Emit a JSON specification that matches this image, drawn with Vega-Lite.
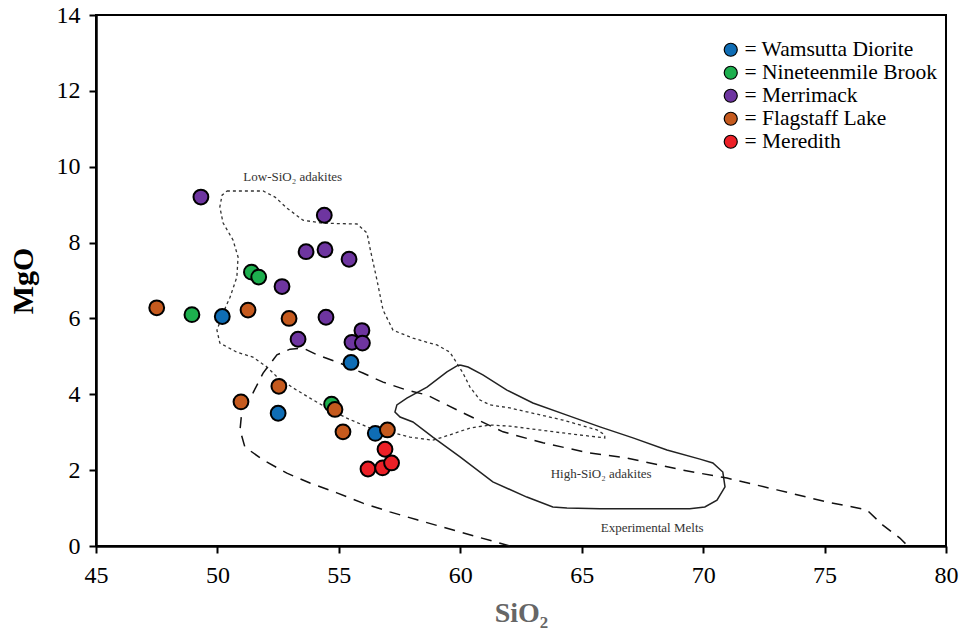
{
  "$schema": "https://vega.github.io/schema/vega-lite/v6.json",
  "width": 850,
  "height": 531,
  "autosize": {"type": "none"},
  "padding": {"left": 96, "top": 15, "right": 21, "bottom": 94},
  "background": "white",
  "config": {
    "font": "Liberation Serif",
    "view": {"stroke": "black", "strokeWidth": 2},
    "axis": {
      "grid": false,
      "domainColor": "black",
      "domainWidth": 2.5,
      "tickColor": "black",
      "tickWidth": 2,
      "tickSize": 7,
      "labelColor": "black",
      "labelFlush": false,
      "titleFontWeight": "bold"
    }
  },
  "datasets": {
    "samples": [
      {"unit": "Wamsutta Diorite", "SiO2": 50.2, "MgO": 6.05},
      {"unit": "Wamsutta Diorite", "SiO2": 55.5, "MgO": 4.84},
      {"unit": "Wamsutta Diorite", "SiO2": 52.5, "MgO": 3.5},
      {"unit": "Wamsutta Diorite", "SiO2": 56.5, "MgO": 2.97},
      {"unit": "Nineteenmile Brook", "SiO2": 48.95, "MgO": 6.1},
      {"unit": "Nineteenmile Brook", "SiO2": 51.4, "MgO": 7.22},
      {"unit": "Nineteenmile Brook", "SiO2": 51.7, "MgO": 7.09},
      {"unit": "Nineteenmile Brook", "SiO2": 54.7, "MgO": 3.74},
      {"unit": "Merrimack", "SiO2": 49.32, "MgO": 9.2},
      {"unit": "Merrimack", "SiO2": 54.4, "MgO": 8.72},
      {"unit": "Merrimack", "SiO2": 53.65, "MgO": 7.76},
      {"unit": "Merrimack", "SiO2": 54.43, "MgO": 7.81},
      {"unit": "Merrimack", "SiO2": 55.42, "MgO": 7.56},
      {"unit": "Merrimack", "SiO2": 52.66, "MgO": 6.84},
      {"unit": "Merrimack", "SiO2": 54.47, "MgO": 6.03},
      {"unit": "Merrimack", "SiO2": 53.32, "MgO": 5.45},
      {"unit": "Merrimack", "SiO2": 55.95, "MgO": 5.68},
      {"unit": "Merrimack", "SiO2": 55.54, "MgO": 5.37},
      {"unit": "Merrimack", "SiO2": 55.97, "MgO": 5.35},
      {"unit": "Flagstaff Lake", "SiO2": 47.5, "MgO": 6.28},
      {"unit": "Flagstaff Lake", "SiO2": 51.26, "MgO": 6.22},
      {"unit": "Flagstaff Lake", "SiO2": 52.95, "MgO": 6.0},
      {"unit": "Flagstaff Lake", "SiO2": 52.53, "MgO": 4.21},
      {"unit": "Flagstaff Lake", "SiO2": 50.97, "MgO": 3.8},
      {"unit": "Flagstaff Lake", "SiO2": 54.84, "MgO": 3.6},
      {"unit": "Flagstaff Lake", "SiO2": 55.17, "MgO": 3.01},
      {"unit": "Flagstaff Lake", "SiO2": 57.0, "MgO": 3.06},
      {"unit": "Meredith", "SiO2": 56.9, "MgO": 2.55},
      {"unit": "Meredith", "SiO2": 56.2, "MgO": 2.03},
      {"unit": "Meredith", "SiO2": 56.8, "MgO": 2.06},
      {"unit": "Meredith", "SiO2": 57.17, "MgO": 2.19}
    ],
    "lowSiO2": [
      {"i": 0, "SiO2": 50.39, "MgO": 9.36},
      {"i": 1, "SiO2": 51.88, "MgO": 9.36},
      {"i": 2, "SiO2": 52.37, "MgO": 9.2},
      {"i": 3, "SiO2": 52.86, "MgO": 8.91},
      {"i": 4, "SiO2": 53.52, "MgO": 8.59},
      {"i": 5, "SiO2": 54.35, "MgO": 8.51},
      {"i": 6, "SiO2": 55.75, "MgO": 8.49},
      {"i": 7, "SiO2": 56.16, "MgO": 8.25},
      {"i": 8, "SiO2": 56.3, "MgO": 7.8},
      {"i": 9, "SiO2": 56.57, "MgO": 7.01},
      {"i": 10, "SiO2": 56.82, "MgO": 6.22},
      {"i": 11, "SiO2": 57.23, "MgO": 5.69},
      {"i": 12, "SiO2": 58.05, "MgO": 5.48},
      {"i": 13, "SiO2": 58.75, "MgO": 5.35},
      {"i": 14, "SiO2": 59.04, "MgO": 5.3},
      {"i": 15, "SiO2": 59.57, "MgO": 5.11},
      {"i": 16, "SiO2": 59.86, "MgO": 4.82},
      {"i": 17, "SiO2": 60.11, "MgO": 4.56},
      {"i": 18, "SiO2": 60.4, "MgO": 4.19},
      {"i": 19, "SiO2": 60.81, "MgO": 3.85},
      {"i": 20, "SiO2": 61.22, "MgO": 3.72},
      {"i": 21, "SiO2": 62.04, "MgO": 3.64},
      {"i": 22, "SiO2": 64.23, "MgO": 3.32},
      {"i": 23, "SiO2": 65.63, "MgO": 3.06},
      {"i": 24, "SiO2": 65.95, "MgO": 2.93},
      {"i": 25, "SiO2": 65.95, "MgO": 2.85},
      {"i": 26, "SiO2": 64.23, "MgO": 2.98},
      {"i": 27, "SiO2": 62.04, "MgO": 3.16},
      {"i": 28, "SiO2": 61.22, "MgO": 3.19},
      {"i": 29, "SiO2": 60.4, "MgO": 3.11},
      {"i": 30, "SiO2": 59.57, "MgO": 2.93},
      {"i": 31, "SiO2": 58.87, "MgO": 2.79},
      {"i": 32, "SiO2": 57.93, "MgO": 2.87},
      {"i": 33, "SiO2": 57.1, "MgO": 3.01},
      {"i": 34, "SiO2": 56.28, "MgO": 3.11},
      {"i": 35, "SiO2": 55.33, "MgO": 3.37},
      {"i": 36, "SiO2": 54.51, "MgO": 3.64},
      {"i": 37, "SiO2": 53.81, "MgO": 3.9},
      {"i": 38, "SiO2": 53.11, "MgO": 4.17},
      {"i": 39, "SiO2": 52.45, "MgO": 4.46},
      {"i": 40, "SiO2": 52.04, "MgO": 4.72},
      {"i": 41, "SiO2": 51.46, "MgO": 4.98},
      {"i": 42, "SiO2": 50.8, "MgO": 5.11},
      {"i": 43, "SiO2": 50.1, "MgO": 5.35},
      {"i": 44, "SiO2": 49.98, "MgO": 5.69},
      {"i": 45, "SiO2": 50.23, "MgO": 6.14},
      {"i": 46, "SiO2": 50.52, "MgO": 6.56},
      {"i": 47, "SiO2": 50.8, "MgO": 7.09},
      {"i": 48, "SiO2": 50.85, "MgO": 7.62},
      {"i": 49, "SiO2": 50.64, "MgO": 8.07},
      {"i": 50, "SiO2": 50.23, "MgO": 8.52},
      {"i": 51, "SiO2": 50.1, "MgO": 8.94},
      {"i": 52, "SiO2": 50.19, "MgO": 9.25},
      {"i": 53, "SiO2": 50.39, "MgO": 9.36}
    ],
    "highSiO2": [
      {"i": 0, "SiO2": 59.99, "MgO": 4.77},
      {"i": 1, "SiO2": 60.32, "MgO": 4.72},
      {"i": 2, "SiO2": 60.93, "MgO": 4.51},
      {"i": 3, "SiO2": 61.92, "MgO": 4.11},
      {"i": 4, "SiO2": 62.99, "MgO": 3.77},
      {"i": 5, "SiO2": 64.39, "MgO": 3.45},
      {"i": 6, "SiO2": 65.75, "MgO": 3.14},
      {"i": 7, "SiO2": 67.11, "MgO": 2.85},
      {"i": 8, "SiO2": 68.51, "MgO": 2.53},
      {"i": 9, "SiO2": 69.87, "MgO": 2.29},
      {"i": 10, "SiO2": 70.4, "MgO": 2.19},
      {"i": 11, "SiO2": 70.81, "MgO": 1.95},
      {"i": 12, "SiO2": 70.9, "MgO": 1.56},
      {"i": 13, "SiO2": 70.57, "MgO": 1.21},
      {"i": 14, "SiO2": 70.07, "MgO": 1.03},
      {"i": 15, "SiO2": 69.45, "MgO": 0.98},
      {"i": 16, "SiO2": 65.75, "MgO": 0.98},
      {"i": 17, "SiO2": 64.39, "MgO": 1.0},
      {"i": 18, "SiO2": 63.81, "MgO": 1.03},
      {"i": 19, "SiO2": 62.74, "MgO": 1.29},
      {"i": 20, "SiO2": 61.34, "MgO": 1.69},
      {"i": 21, "SiO2": 59.99, "MgO": 2.35},
      {"i": 22, "SiO2": 58.87, "MgO": 2.87},
      {"i": 23, "SiO2": 58.05, "MgO": 3.27},
      {"i": 24, "SiO2": 57.52, "MgO": 3.4},
      {"i": 25, "SiO2": 57.31, "MgO": 3.53},
      {"i": 26, "SiO2": 57.39, "MgO": 3.72},
      {"i": 27, "SiO2": 57.8, "MgO": 3.9},
      {"i": 28, "SiO2": 58.63, "MgO": 4.19},
      {"i": 29, "SiO2": 59.45, "MgO": 4.59},
      {"i": 30, "SiO2": 59.86, "MgO": 4.75},
      {"i": 31, "SiO2": 59.99, "MgO": 4.77}
    ],
    "melts": [
      {"i": 0, "SiO2": 62.04, "MgO": 0.0},
      {"i": 1, "SiO2": 58.22, "MgO": 0.69},
      {"i": 2, "SiO2": 57.1, "MgO": 0.9},
      {"i": 3, "SiO2": 55.99, "MgO": 1.13},
      {"i": 4, "SiO2": 54.92, "MgO": 1.4},
      {"i": 5, "SiO2": 53.81, "MgO": 1.66},
      {"i": 6, "SiO2": 52.86, "MgO": 1.92},
      {"i": 7, "SiO2": 51.88, "MgO": 2.27},
      {"i": 8, "SiO2": 51.13, "MgO": 2.61},
      {"i": 9, "SiO2": 50.93, "MgO": 3.06},
      {"i": 10, "SiO2": 51.01, "MgO": 3.59},
      {"i": 11, "SiO2": 51.46, "MgO": 4.03},
      {"i": 12, "SiO2": 51.88, "MgO": 4.56},
      {"i": 13, "SiO2": 52.45, "MgO": 5.04},
      {"i": 14, "SiO2": 52.99, "MgO": 5.19},
      {"i": 15, "SiO2": 53.52, "MgO": 5.22},
      {"i": 16, "SiO2": 54.1, "MgO": 5.04},
      {"i": 17, "SiO2": 55.05, "MgO": 4.82},
      {"i": 18, "SiO2": 55.99, "MgO": 4.56},
      {"i": 19, "SiO2": 56.82, "MgO": 4.32},
      {"i": 20, "SiO2": 57.8, "MgO": 4.11},
      {"i": 21, "SiO2": 58.63, "MgO": 3.98},
      {"i": 22, "SiO2": 60.11, "MgO": 3.51},
      {"i": 23, "SiO2": 61.76, "MgO": 3.01},
      {"i": 24, "SiO2": 63.4, "MgO": 2.72},
      {"i": 25, "SiO2": 65.34, "MgO": 2.45},
      {"i": 26, "SiO2": 66.86, "MgO": 2.32},
      {"i": 27, "SiO2": 69.17, "MgO": 2.0},
      {"i": 28, "SiO2": 70.98, "MgO": 1.79},
      {"i": 29, "SiO2": 73.04, "MgO": 1.48},
      {"i": 30, "SiO2": 75.09, "MgO": 1.16},
      {"i": 31, "SiO2": 76.16, "MgO": 1.03},
      {"i": 32, "SiO2": 76.74, "MgO": 0.95},
      {"i": 33, "SiO2": 77.4, "MgO": 0.55},
      {"i": 34, "SiO2": 78.1, "MgO": 0.21},
      {"i": 35, "SiO2": 78.43, "MgO": 0.0}
    ],
    "notes": [
      {"label": "Low-SiO₂ adakites", "SiO2": 53.1, "MgO": 9.73},
      {"label": "High-SiO₂ adakites", "SiO2": 65.8, "MgO": 1.9},
      {"label": "Experimental Melts", "SiO2": 67.9, "MgO": 0.47}
    ]
  },
  "layer": [
    {
      "data": {"name": "lowSiO2"},
      "mark": {"type": "line", "color": "#333333", "strokeWidth": 1.3, "strokeDash": [3, 3], "interpolate": "linear"},
      "encoding": {
        "x": {"field": "SiO2", "type": "quantitative", "scale": {"domain": [45, 80], "nice": false, "zero": false},
          "axis": {"values": [45, 50, 55, 60, 65, 70, 75, 80], "title": "SiO₂", "labelFont": "Liberation Serif", "labelFontSize": 24, "titleFont": "Liberation Serif", "titleFontSize": 28, "titleColor": "#666666", "titlePadding": 12, "labelPadding": 10}},
        "y": {"field": "MgO", "type": "quantitative", "scale": {"domain": [0, 14], "nice": false},
          "axis": {"values": [0, 2, 4, 6, 8, 10, 12, 14], "title": "MgO", "labelFont": "Liberation Serif", "labelFontSize": 24, "titleFont": "Liberation Serif", "titleFontSize": 30, "titleColor": "black", "titlePadding": 18, "labelPadding": 9}},
        "order": {"field": "i", "type": "quantitative"}
      }
    },
    {
      "data": {"name": "highSiO2"},
      "mark": {"type": "line", "color": "#222222", "strokeWidth": 1.5, "interpolate": "linear"},
      "encoding": {
        "x": {"field": "SiO2", "type": "quantitative"},
        "y": {"field": "MgO", "type": "quantitative"},
        "order": {"field": "i", "type": "quantitative"}
      }
    },
    {
      "data": {"name": "melts"},
      "mark": {"type": "line", "color": "#111111", "strokeWidth": 1.5, "strokeDash": [11, 8], "interpolate": "linear"},
      "encoding": {
        "x": {"field": "SiO2", "type": "quantitative"},
        "y": {"field": "MgO", "type": "quantitative"},
        "order": {"field": "i", "type": "quantitative"}
      }
    },
    {
      "data": {"name": "notes"},
      "mark": {"type": "text", "font": "Liberation Serif", "fontSize": 13, "color": "#333333", "align": "center", "baseline": "middle"},
      "encoding": {
        "x": {"field": "SiO2", "type": "quantitative"},
        "y": {"field": "MgO", "type": "quantitative"},
        "text": {"field": "label"}
      }
    },
    {
      "data": {"name": "samples"},
      "mark": {"type": "point", "shape": "circle", "filled": true, "size": 220, "stroke": "black", "strokeWidth": 2, "opacity": 1},
      "encoding": {
        "x": {"field": "SiO2", "type": "quantitative"},
        "y": {"field": "MgO", "type": "quantitative"},
        "color": {
          "field": "unit", "type": "nominal",
          "scale": {
            "domain": ["Wamsutta Diorite", "Nineteenmile Brook", "Merrimack", "Flagstaff Lake", "Meredith"],
            "range": ["#0F6DB5", "#1DAF4E", "#6E35A0", "#C55A1E", "#EC2027"]
          },
          "legend": {
            "title": null,
            "orient": "none",
            "legendX": 624,
            "legendY": 24,
            "symbolType": "circle",
            "symbolSize": 170,
            "symbolStrokeColor": "black",
            "symbolStrokeWidth": 1.2,
            "symbolOpacity": 1,
            "rowPadding": 0,
            "labelOffset": 3,
            "labelFont": "Liberation Serif",
            "labelFontSize": 21.5,
            "labelColor": "black",
            "labelLimit": 0,
            "labelExpr": "'= ' + datum.label"
          }
        }
      }
    }
  ]
}
